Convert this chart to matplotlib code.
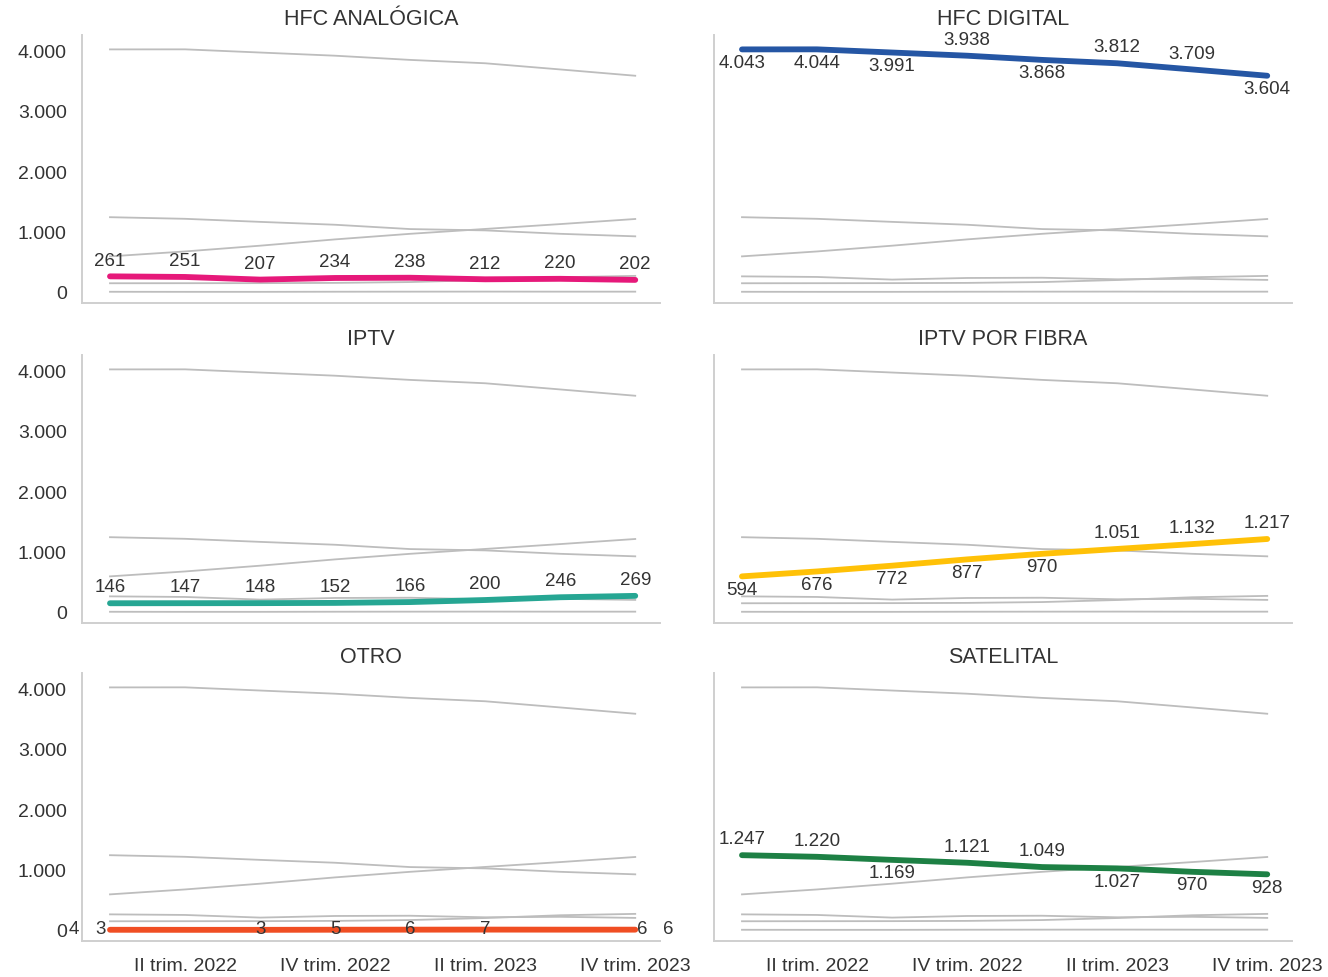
import matplotlib
matplotlib.use("Agg")
import matplotlib.pyplot as plt
from matplotlib.ticker import FuncFormatter
from matplotlib import font_manager

periods = ["I trim. 2022", "II trim. 2022", "III trim. 2022", "IV trim. 2022",
           "I trim. 2023", "II trim. 2023", "III trim. 2023", "IV trim. 2023"]

titles = ["HFC ANALÓGICA", "HFC DIGITAL", "IPTV", "IPTV POR FIBRA", "OTRO", "SATELITAL"]

hfc_analogica = [261, 251, 207, 234, 238, 212, 220, 202]
hfc_digital = [4043, 4044, 3991, 3938, 3868, 3812, 3709, 3604]
iptv = [146, 147, 148, 152, 166, 200, 246, 269]
iptv_fibra = [594, 676, 772, 877, 970, 1051, 1132, 1217]
otro = [4, 3, 3, 5, 6, 7, 6, 6]
satelital = [1247, 1220, 1169, 1121, 1049, 1027, 970, 928]

series = [hfc_analogica, hfc_digital, iptv, iptv_fibra, otro, satelital]
colors = ["#E6197A", "#2556A4", "#26A693", "#FFC107", "#F04E23", "#1D8044"]

# label placement: 1 = above, -1 = below, 0 = on line
placement = [
    [1] * 8,
    [-1, -1, -1, 1, -1, 1, 1, -1],
    [1] * 8,
    [-1, -1, -1, -1, -1, 1, 1, 1],
    [0] * 8,
    [1, 1, -1, 1, 1, -1, -1, -1],
]
otro_dx = [-26, -61, 0, 0, 0, 0, 59, 24]

avail = {f.name for f in font_manager.fontManager.ttflist}
fam = ["Liberation Sans Narrow", "Liberation Sans", "DejaVu Sans"]
fam = [f for f in fam if f in avail] or ["DejaVu Sans"]
plt.rcParams["font.family"] = fam

txt = "#333333"
gray = "#BDBDBD"
spine_c = "#CFCFCF"

fig = plt.figure(figsize=(13.28, 9.77), dpi=100)
W, H = 1328, 977
lefts = [82, 714]
tops = [35, 355, 673]
aw, ah = 578, 268

x = list(range(len(periods)))

for i, (title, vals) in enumerate(zip(titles, series)):
    r, c = divmod(i, 2)
    ax = fig.add_axes([lefts[c] / W, 1 - (tops[r] + ah) / H, aw / W, ah / H])
    for s in series:
        ax.plot(x, s, color=gray, lw=1.3, zorder=1)
    ax.plot(x, vals, color=colors[i], lw=4.2, solid_capstyle="round", zorder=3)
    for j, v in enumerate(vals):
        p = placement[i][j]
        dy = 11 if p == 1 else (-10 if p == -1 else 0)
        dx = otro_dx[j] if i == 4 else 0
        lab = f"{v:,}".replace(",", ".")
        ax.annotate(lab, (x[j], v), xytext=(dx, dy), textcoords="offset points",
                    ha="center", va="center", fontsize=13.5, color=txt, zorder=4)
    ax.set_xlim(-0.373, 7.33)
    ax.set_ylim(-183, 4283)
    ax.set_yticks([0, 1000, 2000, 3000, 4000])
    ax.yaxis.set_major_formatter(FuncFormatter(lambda v, p: f"{int(v):,}".replace(",", ".")))
    ax.set_xticks([1, 3, 5, 7])
    ax.set_xticklabels([periods[k] for k in [1, 3, 5, 7]])
    ax.tick_params(length=0, labelsize=14, colors=txt)
    ax.tick_params(axis="y", pad=11)
    ax.tick_params(axis="x", pad=12)
    if c == 1:
        ax.tick_params(labelleft=False)
    if r < 2:
        ax.tick_params(labelbottom=False)
    for s in ["top", "right"]:
        ax.spines[s].set_visible(False)
    for s in ["left", "bottom"]:
        ax.spines[s].set_color(spine_c)
        ax.spines[s].set_linewidth(1.4)
    ax.set_title(title, fontsize=15.5, color=txt, pad=7)
    ax.set_facecolor("white")

fig.savefig("out.png", dpi=100, facecolor="white")
